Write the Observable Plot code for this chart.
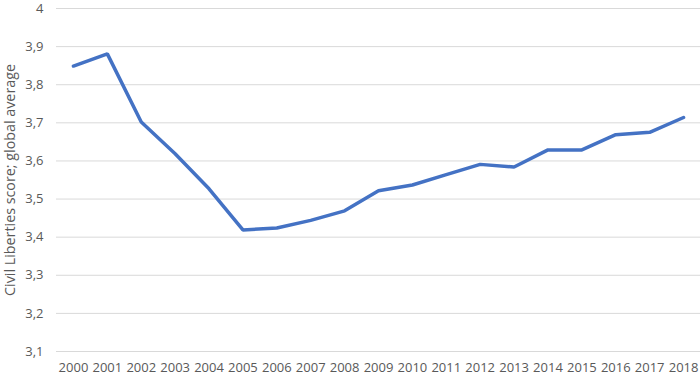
<!DOCTYPE html>
<html>
<head>
<meta charset="utf-8">
<script src="https://cdn.jsdelivr.net/npm/d3@7"></script>
<script src="https://cdn.jsdelivr.net/npm/@observablehq/plot@0.6"></script>
<style>
  html, body { margin: 0; padding: 0; background: #fff; }
  #chart svg { display: block; }
</style>
</head>
<body>
<div id="chart"></div>
<script>
const years = ["2000","2001","2002","2003","2004","2005","2006","2007","2008","2009","2010","2011","2012","2013","2014","2015","2016","2017","2018"];
const scores = [3.849, 3.881, 3.702, 3.619, 3.527, 3.419, 3.424, 3.444, 3.469, 3.522, 3.537, 3.564, 3.591, 3.584, 3.629, 3.629, 3.669, 3.675, 3.714];
const yTicks = [3.1, 3.2, 3.3, 3.4, 3.5, 3.6, 3.7, 3.8, 3.9, 4.0];
const yLabel = "Civil Liberties score; global average";

const data = years.map((y, i) => ({year: y, score: scores[i]}));
const fmt = d => String(+d.toFixed(1)).replace(".", ",");

const chart = Plot.plot({
  width: 700,
  height: 379,
  marginLeft: 56,
  marginRight: 0,
  marginTop: 8,
  marginBottom: 28,
  style: {fontFamily: "'Open Sans', sans-serif", fontSize: "13px", color: "#595959", background: "#fff"},
  x: {type: "point", domain: years, padding: 0.5, round: false},
  y: {domain: [3.1, 4.0]},
  marks: [
    Plot.ruleY(yTicks, {stroke: "#d9d9d9", strokeWidth: 1}),
    Plot.axisY({ticks: yTicks, tickFormat: fmt, tickSize: 0, tickPadding: 13, label: null, fill: "#595959"}),
    Plot.axisX({tickSize: 0, tickPadding: 11, label: null, fill: "#595959"}),
    Plot.text([yLabel], {frameAnchor: "left", dx: -46, rotate: -90, textAnchor: "middle", fill: "#595959", fontSize: 14.3}),
    Plot.lineY(data, {x: "year", y: "score", stroke: "#4472C4", strokeWidth: 3.5, strokeLinejoin: "miter", strokeLinecap: "round"})
  ]
});
document.getElementById("chart").appendChild(chart);
</script>
</body>
</html>
